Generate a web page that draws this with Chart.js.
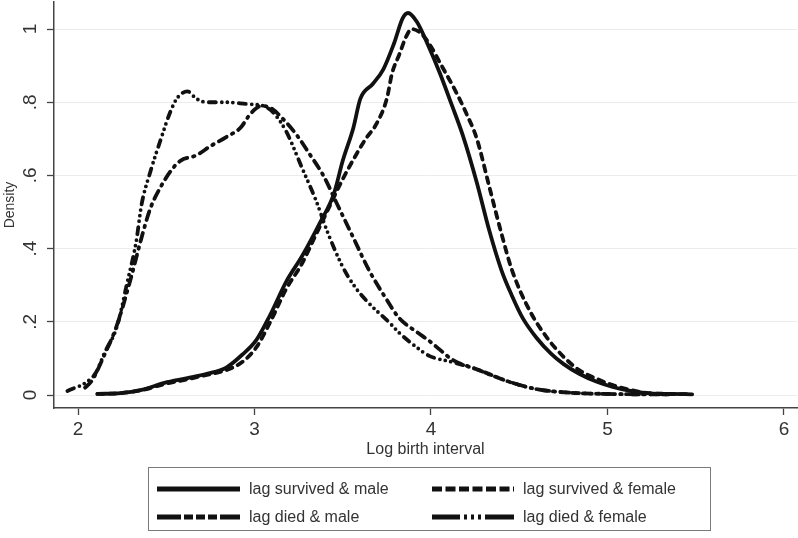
<!DOCTYPE html>
<html>
<head>
<meta charset="utf-8">
<script src="https://cdn.jsdelivr.net/npm/chart.js@4/dist/chart.umd.min.js"></script>
<style>
  html, body { margin:0; padding:0; background:#fff; }
  #wrap { position:relative; width:798px; height:538px; background:#fff; }
  #c { position:absolute; left:0; top:0; }
  #legend { position:absolute; left:148px; top:467px; width:563px; height:64px; border:1px solid #7a7a7a; box-sizing:border-box; font-family:"Liberation Sans", Arial, sans-serif; font-size:16px; color:#333; }
  #legend svg { position:absolute; left:0; top:0; }
  #legend span { position:absolute; white-space:nowrap; line-height:18px; }
</style>
</head>
<body>
<div id="wrap">
  <canvas id="c" width="798" height="538"></canvas>
  <div id="legend">
    <svg width="563" height="64">
      <line x1="8" y1="21" x2="91" y2="21" stroke="#111" stroke-width="4.8"/>
      <line x1="283" y1="21" x2="365" y2="21" stroke="#111" stroke-width="4.8" stroke-dasharray="10 3.5"/>
      <line x1="8" y1="49" x2="91" y2="49" stroke="#111" stroke-width="4.8" stroke-dasharray="24 3 9 3 9 3 9 3 40 3"/>
      <line x1="283" y1="49" x2="365" y2="49" stroke="#111" stroke-width="4.8" stroke-dasharray="28 4 3 4 3 4 3 4 40 3"/>
    </svg>
    <span id="l1" style="left:100px; top:12px;"></span>
    <span id="l2" style="left:374px; top:12px;"></span>
    <span id="l3" style="left:100px; top:40px;"></span>
    <span id="l4" style="left:374px; top:40px;"></span>
  </div>
</div>
<script>
// ---- data ----
const seriesNames = ['lag survived & male', 'lag survived & female', 'lag died & male', 'lag died & female'];

const xTicks = [2, 3, 4, 5, 6];
const xTickLabels = ['2', '3', '4', '5', '6'];
const yTicks = [0, 0.2, 0.4, 0.6, 0.8, 1];
const yTickLabels = ['0', '.2', '.4', '.6', '.8', '1'];

const survMaleX = [2.11, 2.24, 2.36, 2.49, 2.62, 2.73, 2.84, 2.93, 3.01, 3.09, 3.18, 3.27, 3.37, 3.45, 3.50, 3.56, 3.60, 3.67, 3.73, 3.79, 3.84, 3.87, 3.92, 3.98, 4.05, 4.12, 4.18, 4.26, 4.33, 4.40, 4.46, 4.52, 4.60, 4.68, 4.75, 4.84, 4.94, 5.03, 5.13, 5.22, 5.35, 5.48];
const survMaleY = [0.003, 0.005, 0.014, 0.033, 0.046, 0.058, 0.075, 0.11, 0.15, 0.22, 0.31, 0.38, 0.47, 0.55, 0.64, 0.73, 0.81, 0.85, 0.89, 0.96, 1.03, 1.044, 1.02, 0.96, 0.88, 0.79, 0.71, 0.58, 0.45, 0.34, 0.27, 0.21, 0.155, 0.113, 0.085, 0.058, 0.036, 0.022, 0.011, 0.005, 0.003, 0.002];

const survFemaleX = [2.11, 2.24, 2.36, 2.49, 2.62, 2.73, 2.84, 2.93, 3.01, 3.09, 3.18, 3.27, 3.34, 3.41, 3.50, 3.58, 3.63, 3.69, 3.75, 3.78, 3.82, 3.86, 3.89, 3.94, 3.99, 4.06, 4.14, 4.20, 4.26, 4.33, 4.40, 4.46, 4.56, 4.66, 4.75, 4.84, 4.94, 5.03, 5.13, 5.22, 5.35, 5.48];
const survFemaleY = [0.003, 0.005, 0.013, 0.03, 0.043, 0.055, 0.068, 0.09, 0.13, 0.2, 0.29, 0.36, 0.43, 0.50, 0.59, 0.66, 0.70, 0.74, 0.81, 0.88, 0.93, 0.98, 1.0, 0.99, 0.96, 0.90, 0.83, 0.77, 0.70, 0.57, 0.44, 0.34, 0.23, 0.155, 0.105, 0.068, 0.044, 0.027, 0.014, 0.006, 0.003, 0.002];

const diedMaleX = [2.04, 2.08, 2.15, 2.22, 2.30, 2.36, 2.41, 2.47, 2.53, 2.58, 2.67, 2.75, 2.84, 2.92, 2.98, 3.04, 3.09, 3.17, 3.24, 3.31, 3.39, 3.47, 3.56, 3.65, 3.75, 3.82, 3.92, 3.99, 4.05, 4.12, 4.26, 4.45, 4.60, 4.80, 5.00, 5.20, 5.35];
const diedMaleY = [0.02, 0.04, 0.11, 0.19, 0.32, 0.43, 0.51, 0.57, 0.615, 0.64, 0.655, 0.68, 0.705, 0.73, 0.77, 0.79, 0.785, 0.75, 0.71, 0.66, 0.60, 0.52, 0.43, 0.34, 0.26, 0.21, 0.172, 0.148, 0.124, 0.097, 0.07, 0.035, 0.016, 0.006, 0.003, 0.002, 0.002];

const diedFemaleX = [1.94, 2.05, 2.10, 2.15, 2.22, 2.28, 2.33, 2.36, 2.41, 2.47, 2.52, 2.56, 2.62, 2.67, 2.73, 2.84, 2.96, 3.05, 3.11, 3.18, 3.27, 3.35, 3.41, 3.50, 3.57, 3.64, 3.77, 3.82, 3.92, 3.99, 4.12, 4.26, 4.45, 4.60, 4.80, 5.00, 5.20, 5.35];
const diedFemaleY = [0.011, 0.036, 0.06, 0.115, 0.186, 0.31, 0.42, 0.52, 0.61, 0.70, 0.77, 0.81, 0.83, 0.81, 0.80, 0.80, 0.795, 0.79, 0.77, 0.72, 0.62, 0.53, 0.45, 0.35, 0.295, 0.255, 0.195, 0.17, 0.13, 0.107, 0.09, 0.07, 0.035, 0.016, 0.006, 0.003, 0.002, 0.002];

// ---- build ----
const zip = (xs, ys) => xs.map((x, i) => ({ x: x, y: ys[i] }));
const FONT = '"Liberation Sans", Arial, sans-serif';
const ink = '#111';

['l1','l2','l3','l4'].forEach((id, i) => { document.getElementById(id).textContent = seriesNames[i]; });

const common = { borderColor: ink, borderWidth: 3.8, pointRadius: 0, fill: false, cubicInterpolationMode: 'monotone', borderCapStyle: 'round', borderJoinStyle: 'round' };

new Chart(document.getElementById('c'), {
  type: 'line',
  data: {
    datasets: [
      Object.assign({ label: seriesNames[0], data: zip(survMaleX, survMaleY) }, common),
      Object.assign({ label: seriesNames[1], data: zip(survFemaleX, survFemaleY) }, common, { borderDash: [6, 6] }),
      Object.assign({ label: seriesNames[2], data: zip(diedMaleX, diedMaleY) }, common, { borderDash: [9, 6, 1.5, 6] }),
      Object.assign({ label: seriesNames[3], data: zip(diedFemaleX, diedFemaleY) }, common, { borderDash: [7, 6, 0, 5.5, 0, 5.5, 0, 6] })
    ]
  },
  options: {
    responsive: false,
    animation: false,
    devicePixelRatio: 1,
    layout: { padding: { left: 0, right: 1, top: 2, bottom: 79 } },
    plugins: { legend: { display: false }, tooltip: { enabled: false } },
    scales: {
      x: {
        type: 'linear', min: 1.864, max: 6.074,
        afterBuildTicks: s => { s.ticks = xTicks.map(v => ({ value: v })); },
        afterFit: s => { s.height = 51; s.paddingLeft = 0; s.paddingRight = 0; },
        ticks: { maxRotation: 0, minRotation: 0, padding: 3, font: { family: FONT, size: 19 }, color: '#333', callback: (v, i) => xTickLabels[i] },
        grid: { drawOnChartArea: false, drawTicks: true, tickLength: 7, tickColor: '#444', tickWidth: 1.3 },
        border: { color: '#444', width: 1.5 },
        title: { display: true, text: 'Log birth interval', font: { family: FONT, size: 16 }, color: '#333', padding: 0 }
      },
      y: {
        type: 'linear', min: -0.0355, max: 1.074,
        afterBuildTicks: s => { s.ticks = yTicks.map(v => ({ value: v })); },
        afterFit: s => { s.width = 54; s.paddingTop = 0; s.paddingBottom = 0; },
        ticks: { minRotation: 90, maxRotation: 90, crossAlign: 'center', padding: 8, font: { family: FONT, size: 19 }, color: '#333', callback: (v, i) => yTickLabels[i] },
        grid: { color: '#ececec', lineWidth: 1, tickLength: 7, tickColor: '#444', tickWidth: 1.3 },
        border: { color: '#444', width: 1.5 },
        title: { display: true, text: 'Density', font: { family: FONT, size: 14 }, color: '#333', padding: { top: 2, bottom: 0 } }
      }
    }
  }
});
</script>
</body>
</html>
